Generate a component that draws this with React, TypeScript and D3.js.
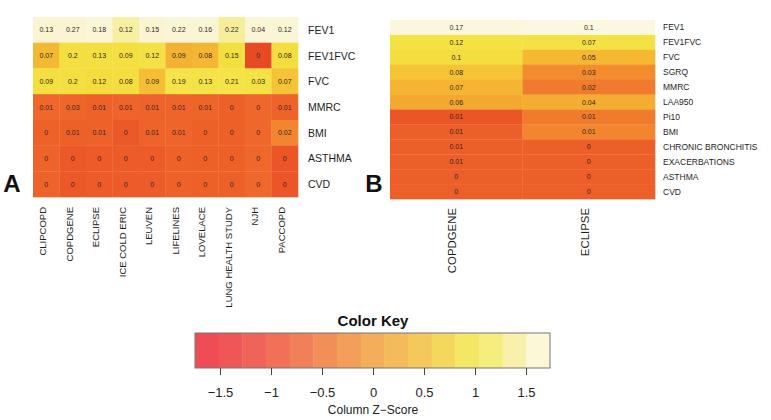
import React from "react";
import * as d3 from "d3";

const FONT = "'Liberation Sans', Arial, Helvetica, sans-serif";

// ---------- Panel A data ----------
const colsA = ["CLIPCOPD", "COPDGENE", "ECLIPSE", "ICE COLD ERIC", "LEUVEN", "LIFELINES", "LOVELACE", "LUNG HEALTH STUDY", "NJH", "PACCOPD"];
const rowsA = ["FEV1", "FEV1FVC", "FVC", "MMRC", "BMI", "ASTHMA", "CVD"];
const valuesA = [
  [0.13, 0.27, 0.18, 0.12, 0.15, 0.22, 0.16, 0.22, 0.04, 0.12],
  [0.07, 0.2, 0.13, 0.09, 0.12, 0.09, 0.08, 0.15, 0, 0.08],
  [0.09, 0.2, 0.12, 0.08, 0.09, 0.19, 0.13, 0.21, 0.03, 0.07],
  [0.01, 0.03, 0.01, 0.01, 0.01, 0.01, 0.01, 0, 0, 0.01],
  [0, 0.01, 0.01, 0, 0.01, 0.01, 0, 0, 0, 0.02],
  [0, 0, 0, 0, 0, 0, 0, 0, 0, 0],
  [0, 0, 0, 0, 0, 0, 0, 0, 0, 0],
];
// column z-scores
const zA = [
  [1.55, 1.6, 1.9, 1.42, 1.55, 1.7, 1.7, 1.4, 1.75, 1.7],
  [0.42, 0.9, 0.9, 0.92, 1.0, 0.3, 0.38, 0.9, -1.3, 0.85],
  [0.9, 0.9, 0.8, 0.85, 0.5, 1.1, 1.05, 1.1, 1.0, 0.55],
  [-0.62, -0.64, -0.7, -0.66, -0.68, -0.66, -0.65, -0.72, -0.62, -0.68],
  [-0.7, -0.72, -0.7, -0.85, -0.68, -0.66, -0.72, -0.72, -0.62, -0.45],
  [-0.68, -0.85, -0.82, -0.82, -0.82, -0.7, -0.72, -0.72, -0.62, -0.92],
  [-0.68, -0.85, -0.82, -0.82, -0.82, -0.7, -0.72, -0.72, -0.62, -0.92],
];

// ---------- Panel B data ----------
const colsB = ["COPDGENE", "ECLIPSE"];
const rowsB = ["FEV1", "FEV1FVC", "FVC", "SGRQ", "MMRC", "LAA950", "Pi10", "BMI", "CHRONIC BRONCHITIS", "EXACERBATIONS", "ASTHMA", "CVD"];
const valuesB = [
  [0.17, 0.1],
  [0.12, 0.07],
  [0.1, 0.05],
  [0.08, 0.03],
  [0.07, 0.02],
  [0.06, 0.04],
  [0.01, 0.01],
  [0.01, 0.01],
  [0.01, 0],
  [0.01, 0],
  [0, 0],
  [0, 0],
];
const zB = [
  [2.1, 2.2],
  [1.0, 1.0],
  [0.85, 0.4],
  [0.55, -0.3],
  [0.35, -0.5],
  [0.15, 0.25],
  [-0.9, -0.5],
  [-0.75, -0.45],
  [-0.75, -0.75],
  [-0.75, -0.75],
  [-0.75, -0.75],
  [-0.75, -0.75],
];

// ---------- Colour key ----------
const keyTicks = [-1.5, -1, -0.5, 0, 0.5, 1, 1.5];
const keyDomain = [-1.75, 1.73];
const keyBlocks = 15;

const cellStops = [-1.3, -0.9, -0.6, -0.45, 0, 0.15, 0.4, 0.6, 0.8, 1.1, 1.35, 1.55, 2.3];
const cellColors = ["#E84A26", "#EB5627", "#EF682B", "#F2852E", "#F29A2E", "#F3A830", "#F4B833", "#F5C636", "#F4DC3C", "#F4E448", "#F6EC8A", "#FAF4D0", "#FCF8E2"];
const keyStops = [-1.75, -1.5, -1.0, -0.5, 0, 0.5, 0.8, 1.0, 1.3, 1.5, 1.73];
const keyColors = ["#EE4A55", "#EF5157", "#F06C58", "#F28C58", "#F4AE5A", "#F5CB5C", "#F4E05E", "#F4EC66", "#F8EE98", "#FBF4C8", "#FDFBE6"];

const cellColor = d3.scaleLinear<string>().domain(cellStops).range(cellColors).interpolate(d3.interpolateRgb).clamp(true);
const keyColor = d3.scaleLinear<string>().domain(keyStops).range(keyColors).interpolate(d3.interpolateRgb).clamp(true);

type PanelProps = {
  cols: string[];
  rows: string[];
  values: number[][];
  z: number[][];
  x0: number; x1: number; y0: number; y1: number;
  rowFont: number; colFont: number; colLabelY: number; rowLabelX: number;
};

function Heatmap(p: PanelProps) {
  const x = d3.scaleBand().domain(p.cols).range([p.x0, p.x1]);
  const y = d3.scaleBand().domain(p.rows).range([p.y0, p.y1]);
  return (
    <g>
      {p.rows.map((r, i) =>
        p.cols.map((c, j) => (
          <rect key={r + c} x={x(c)} y={y(r)} width={x.bandwidth() + 0.3} height={y.bandwidth() + 0.3} fill={cellColor(p.z[i][j])} />
        ))
      )}
      {p.rows.map((r, i) =>
        p.cols.map((c, j) => (
          <text key={"t" + r + c} x={(x(c) as number) + x.bandwidth() / 2} y={(y(r) as number) + y.bandwidth() / 2}
            textAnchor="middle" dominantBaseline="central" fontSize={7} fill="#33261c" fontFamily={FONT}>
            {String(p.values[i][j])}
          </text>
        ))
      )}
      {p.rows.map((r) => (
        <text key={"r" + r} x={p.rowLabelX} y={(y(r) as number) + y.bandwidth() / 2} dominantBaseline="central"
          fontSize={p.rowFont} fill="#1e1e1e" fontFamily={FONT}>{r}</text>
      ))}
      {p.cols.map((c) => (
        <text key={"c" + c} transform={`translate(${(x(c) as number) + x.bandwidth() / 2},${p.colLabelY}) rotate(-90)`}
          textAnchor="end" fontSize={p.colFont} fill="#1e1e1e" fontFamily={FONT}>{c}</text>
      ))}
    </g>
  );
}

function ColorKey() {
  const kx = d3.scaleLinear().domain(keyDomain).range([195, 550]);
  const step = (keyDomain[1] - keyDomain[0]) / keyBlocks;
  const blocks = d3.range(keyBlocks).map((i) => keyDomain[0] + i * step);
  const top = 333, bottom = 368;
  return (
    <g fontFamily={FONT}>
      <text x={373} y={320} textAnchor="middle" dominantBaseline="central" fontSize={15} fontWeight="bold" fill="#111">Color Key</text>
      {blocks.map((b, i) => (
        <rect key={i} x={kx(b)} y={top} width={kx(b + step) - kx(b) + 0.4} height={bottom - top} fill={keyColor(b + step / 2)} />
      ))}
      <rect x={kx(keyDomain[0])} y={top} width={kx(keyDomain[1]) - kx(keyDomain[0])} height={bottom - top} fill="none" stroke="#777" strokeWidth={1} />
      {keyTicks.map((t) => (
        <g key={t}>
          <line x1={kx(t)} x2={kx(t)} y1={bottom} y2={bottom + 7} stroke="#444" strokeWidth={1} />
          <text x={kx(t)} y={392} textAnchor="middle" dominantBaseline="central" fontSize={13} fill="#222">
            {t < 0 ? "\u2212" + String(Math.abs(t)) : String(t)}
          </text>
        </g>
      ))}
      <text x={373} y={410} textAnchor="middle" dominantBaseline="central" fontSize={12} fill="#222">Column Z{"\u2212"}Score</text>
    </g>
  );
}

export default function App() {
  return (
    <div style={{ position: "absolute", left: 0, top: 0 }}>
      <svg width={771} height={420} style={{ display: "block", background: "#fff" }}>
        <rect x={0} y={0} width={771} height={420} fill="#fff" />
        <Heatmap cols={colsA} rows={rowsA} values={valuesA} z={zA} x0={33} x1={298} y0={17} y1={197}
          rowFont={10.5} colFont={9.5} colLabelY={207} rowLabelX={308} />
        <Heatmap cols={colsB} rows={rowsB} values={valuesB} z={zB} x0={390} x1={655} y0={20} y1={199}
          rowFont={8.5} colFont={11.4} colLabelY={208} rowLabelX={663} />
        <text x={12} y={183} textAnchor="middle" dominantBaseline="central" fontSize={24} fontWeight="bold" fontFamily={FONT} fill="#111">A</text>
        <text x={374} y={183} textAnchor="middle" dominantBaseline="central" fontSize={24} fontWeight="bold" fontFamily={FONT} fill="#111">B</text>
        <ColorKey />
      </svg>
    </div>
  );
}
